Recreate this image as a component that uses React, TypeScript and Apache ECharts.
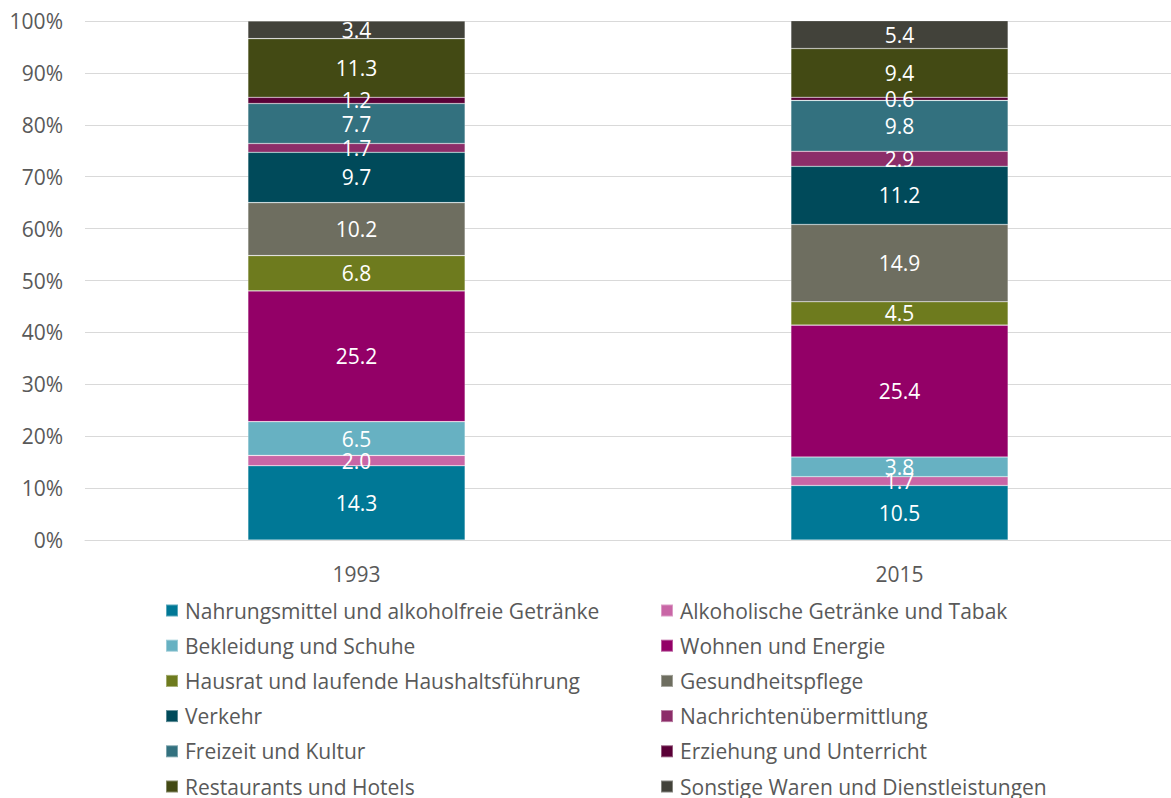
import React, { useEffect, useRef } from "react";
import * as echarts from "echarts";

const years = ["1993", "2015"];
const seriesNames = [
  "Nahrungsmittel und alkoholfreie Getränke",
  "Alkoholische Getränke und Tabak",
  "Bekleidung und Schuhe",
  "Wohnen und Energie",
  "Hausrat und laufende Haushaltsführung",
  "Gesundheitspflege",
  "Verkehr",
  "Nachrichtenübermittlung",
  "Freizeit und Kultur",
  "Erziehung und Unterricht",
  "Restaurants und Hotels",
  "Sonstige Waren und Dienstleistungen",
];
const values1993 = [14.3, 2.0, 6.5, 25.2, 6.8, 10.2, 9.7, 1.7, 7.7, 1.2, 11.3, 3.4];
const values2015 = [10.5, 1.7, 3.8, 25.4, 4.5, 14.9, 11.2, 2.9, 9.8, 0.6, 9.4, 5.4];
const colors = [
  "#007896", "#C966A6", "#67B1C2", "#930067", "#6E7B1E", "#6E6E60",
  "#004A5A", "#8C2D69", "#33717F", "#5A0037", "#434A14", "#42423A",
];
const yTicks = [0, 10, 20, 30, 40, 50, 60, 70, 80, 90, 100];

export default function App() {
  const ref = useRef<HTMLDivElement>(null);
  useEffect(() => {
    document.body.style.margin = "0";
    const chart = echarts.init(ref.current!, null, { renderer: "svg" });
    const font = "'Open Sans', 'Noto Sans', sans-serif";
    const fs = 21;
    const leftNames = seriesNames.filter((_, i) => i % 2 === 0);
    const rightNames = seriesNames.filter((_, i) => i % 2 === 1);
    const legendCommon = {
      orient: "vertical" as const,
      top: 595,
      height: 240,
      itemWidth: 12,
      itemHeight: 12,
      itemGap: 14.2,
      icon: "rect",
      textStyle: { fontSize: fs, color: "#595959", fontFamily: font, lineHeight: 21, padding: [0, 0, 0, 2] },
    };
    chart.setOption({
      animation: false,
      textStyle: { fontFamily: font },
      grid: { left: 85, right: 0, top: 21, bottom: 258, containLabel: false },
      legend: [
        { ...legendCommon, left: 160, data: leftNames },
        { ...legendCommon, left: 655, data: rightNames },
      ],
      xAxis: {
        type: "category",
        data: years,
        axisLine: { show: true, lineStyle: { color: "#d9d9d9", width: 1 } },
        axisTick: { show: false },
        axisLabel: { fontSize: fs, color: "#595959", margin: 23, fontFamily: font },
      },
      yAxis: {
        type: "value",
        min: 0,
        max: 100,
        interval: 10,
        axisLine: { show: false },
        axisTick: { show: false },
        splitLine: { lineStyle: { color: "#d9d9d9", width: 1 } },
        axisLabel: {
          fontSize: fs,
          color: "#595959",
          margin: 22,
          fontFamily: font,
          formatter: (v: number) => (yTicks.includes(v) ? v + "%" : ""),
        },
      },
      series: seriesNames.map((name, i) => ({
        name,
        type: "bar",
        stack: "total",
        barWidth: "40%",
        data: [values1993[i], values2015[i]],
        itemStyle: { color: colors[i], borderColor: "rgba(255,255,255,0.35)", borderWidth: 0.6 },
        label: {
          show: true,
          position: "inside",
          color: "#ffffff",
          fontSize: fs,
          fontFamily: font,
          formatter: (p: any) => Number(p.value).toFixed(1),
        },
        labelLayout: { hideOverlap: false },
      })),
    });
    return () => chart.dispose();
  }, []);
  return <div ref={ref} style={{ width: 1171, height: 798 }} />;
}
